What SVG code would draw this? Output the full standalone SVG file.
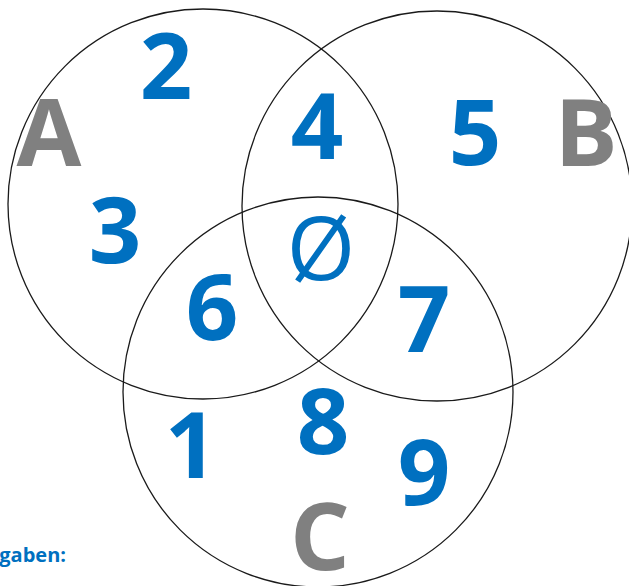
<svg xmlns="http://www.w3.org/2000/svg" width="629" height="586" viewBox="0 0 629 586">
<style>
.c{fill:none;stroke:#1a1a1a;stroke-width:1.3}
.n{font-family:"Open Sans","Noto Sans",sans-serif;font-weight:700;font-size:92px;fill:#0070C0;text-anchor:middle}
.l{font-family:"Open Sans","Noto Sans",sans-serif;font-weight:700;font-size:94px;fill:#808080;text-anchor:middle}
.e{font-family:"Open Sans","Noto Sans",sans-serif;font-weight:400;font-size:88px;fill:#0070C0;text-anchor:middle}
.t{font-family:"Open Sans","Noto Sans",sans-serif;font-weight:700;font-size:20px;fill:#0070C0;text-anchor:end}
</style>
<rect width="629" height="586" fill="#fff"/>
<g id="connectors"></g>
<g id="setA"><circle class="c" cx="203" cy="204" r="195"/><text class="l" x="49" y="166">A</text></g>
<g id="setB"><circle class="c" cx="437" cy="206" r="195"/><text class="l" x="586" y="166">B</text></g>
<g id="setC"><circle class="c" cx="318" cy="392" r="195"/><text class="l" x="320" y="570">C</text></g>
<g id="n2"><text class="n" x="166" y="99">2</text></g>
<g id="n3"><text class="n" x="115" y="263">3</text></g>
<g id="n4"><text class="n" x="317" y="159">4</text></g>
<g id="n5"><text class="n" x="475" y="165">5</text></g>
<g id="nEmpty"><text class="e" x="321" y="280">Ø</text></g>
<g id="n6"><text class="n" x="212" y="340">6</text></g>
<g id="n7"><text class="n" x="424" y="352">7</text></g>
<g id="n8"><text class="n" x="323" y="454">8</text></g>
<g id="n1"><text class="n" x="191" y="478">1</text></g>
<g id="n9"><text class="n" x="424" y="505">9</text></g>
<g id="label"><text class="t" x="66" y="562">gaben:</text></g>
</svg>
